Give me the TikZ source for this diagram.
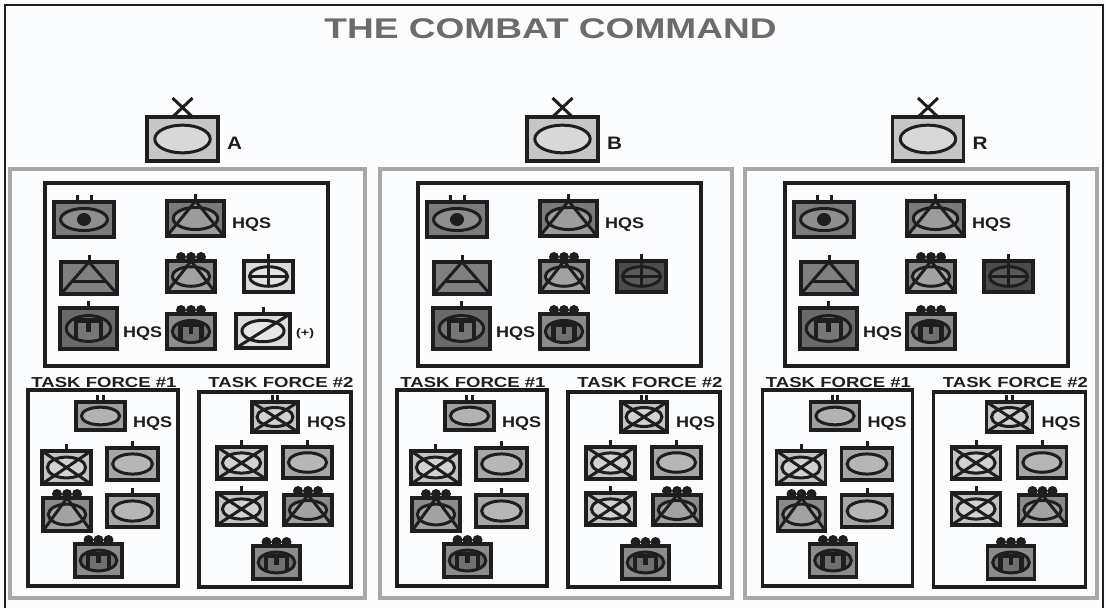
\documentclass[tikz,border=0pt]{standalone}
\usepackage{fontspec}
\setmainfont{Liberation Sans}
\usetikzlibrary{calc}
\definecolor{bg}{HTML}{FBFCFD}
\definecolor{panelgray}{HTML}{A8A8A8}
\definecolor{titlegray}{HTML}{6B6B6B}
\definecolor{inkc}{HTML}{1E1E1E}
\definecolor{topR}{HTML}{C6C6C6}\definecolor{topE}{HTML}{D8D8D8}
\definecolor{eyeR}{HTML}{7C7C7C}\definecolor{eyeE}{HTML}{8E8E8E}
\definecolor{triR}{HTML}{7A7A7A}\definecolor{triE}{HTML}{9C9C9C}
\definecolor{tiiR}{HTML}{808080}
\definecolor{dtR}{HTML}{8A8A8A}\definecolor{dtE}{HTML}{A2A2A2}
\definecolor{crALR}{HTML}{DADADA}\definecolor{crALE}{HTML}{E2E2E2}
\definecolor{crDKR}{HTML}{4C4C4C}\definecolor{crDKE}{HTML}{5A5A5A}
\definecolor{engR}{HTML}{6A6A6A}\definecolor{engE}{HTML}{777777}
\definecolor{deR}{HTML}{8C8C8C}\definecolor{deE}{HTML}{707070}
\definecolor{slR}{HTML}{DCDCDC}\definecolor{slE}{HTML}{E6E6E6}
\definecolor{hqR}{HTML}{9E9E9E}\definecolor{hqE}{HTML}{B2B2B2}
\definecolor{xR}{HTML}{C4C4C4}\definecolor{xE}{HTML}{D2D2D2}
\definecolor{eR}{HTML}{A6A6A6}\definecolor{eE}{HTML}{B6B6B6}

\tikzset{
  symline/.style={line width=3.5pt, draw=inkc, line join=miter},
  ellline/.style={line width=3pt, draw=inkc},
  innerline/.style={line width=3pt, draw=inkc},
  engline/.style={line width=4.4pt, draw=inkc, line join=miter},
  tickline/.style={line width=3pt, draw=inkc},
  panelbox/.style={draw=panelgray, line width=4.5pt},
  innerbox/.style={draw=inkc, line width=3.8pt},
  tfbox/.style={draw=inkc, line width=3.2pt},
  hqs/.style={anchor=base west, inner sep=0pt, text=inkc, font=\fontsize{15.4}{16}\selectfont\bfseries},
  plus/.style={anchor=base west, inner sep=0pt, text=inkc, font=\fontsize{11}{12}\selectfont\bfseries},
  tfl/.style={anchor=base, inner sep=0pt, text=inkc, font=\fontsize{14.5}{15}\selectfont\bfseries},
  letter/.style={anchor=base west, inner sep=0pt, text=inkc, font=\fontsize{18}{19}\selectfont\bfseries},
}

\newcommand\HQS{\scalebox{1.17}[1]{HQS}}
\newcommand\SymSet[4]{%
  \pgfmathsetmacro\Sxa{#1}\pgfmathsetmacro\Sya{#2}%
  \pgfmathsetmacro\Sxb{#3}\pgfmathsetmacro\Syb{#4}%
  \pgfmathsetmacro\Scx{(#1+#3)/2}\pgfmathsetmacro\Scy{(#2+#4)/2}%
  \pgfmathsetmacro\Shw{(#3-#1)/2}\pgfmathsetmacro\Shh{(#4-#2)/2}%
  \pgfmathsetmacro\Srx{0.78*\Shw}\pgfmathsetmacro\Sry{0.63*\Shh}}
\newcommand\SymFill[1]{\fill[#1] (\Sxa,\Sya) rectangle (\Sxb,\Syb);}
\newcommand\SymFrame{\draw[symline] (\Sxa,\Sya) rectangle (\Sxb,\Syb);}
\newcommand\SymEll[1]{\filldraw[ellline,fill=#1] (\Scx,\Scy) ellipse [x radius=\Srx pt, y radius=\Sry pt];}
\newcommand\SymEye{\fill[inkc] (\Scx,\Scy) ellipse [x radius=7pt, y radius=6.5pt];}
\newcommand\SymTriFill[1]{\fill[#1] (\Scx,\Sya) -- (\Sxb,\Syb) -- (\Sxa,\Syb) -- cycle;}
\newcommand\SymTri{\draw[innerline] (\Sxa,\Syb) -- (\Scx,\Sya) -- (\Sxb,\Syb);}
\newcommand\SymBar{\draw[innerline] ($(\Scx,\Sya)!0.62!(\Sxa,\Syb)$) -- ($(\Scx,\Sya)!0.62!(\Sxb,\Syb)$);}
\newcommand\SymX{\draw[innerline] (\Sxa,\Sya) -- (\Sxb,\Syb) (\Sxa,\Syb) -- (\Sxb,\Sya);}
\newcommand\SymSlash{\draw[innerline] (\Sxa,\Syb) -- (\Sxb,\Sya);}
\newcommand\SymCross{\draw[innerline] (\Scx-\Srx,\Scy) -- (\Scx+\Srx,\Scy) (\Scx,\Sya) -- (\Scx,\Scy+\Sry);}
\newcommand\SymEng{\draw[engline] (\Scx-0.44*\Shw,\Scy+0.55*\Shh) -- (\Scx-0.44*\Shw,\Scy-0.4*\Shh) -- (\Scx+0.44*\Shw,\Scy-0.4*\Shh) -- (\Scx+0.44*\Shw,\Scy+0.55*\Shh) (\Scx,\Scy-0.4*\Shh) -- (\Scx,\Scy+0.15*\Shh);}
\newcommand\EchI{\draw[tickline] (\Scx,\Sya) -- (\Scx,\Sya-7.5);}
\newcommand\EchII[1]{\draw[tickline] (\Scx-#1,\Sya) -- (\Scx-#1,\Sya-7.5) (\Scx+#1,\Sya) -- (\Scx+#1,\Sya-7.5);}
\newcommand\EchDots{\fill[inkc] (\Scx-10,\Sya-4) circle [radius=5pt] (\Scx,\Sya-4) circle [radius=5pt] (\Scx+10,\Sya-4) circle [radius=5pt];}
\newcommand\EchX{\draw[tickline] (\Scx-10,\Sya-19) -- (\Scx+10,\Sya) (\Scx-10,\Sya) -- (\Scx+10,\Sya-19);}

% top symbol of a panel
\newcommand\TopSym[2]{%
  \SymSet{147}{117}{218}{161}\SymFill{topR}\SymEll{topE}\EchX\SymFrame
  \node[letter] (#1lab) at (227,149.5) {\scalebox{1.15}[1]{#2}};}

% inner box symbols of a panel
\newcommand\PanelInner[3]{%
  \draw[innerbox] (45,183) rectangle (328,366);
  \SymSet{54}{202}{114}{237}\SymFill{eyeR}\SymEll{eyeE}\SymEye\EchII{7}\SymFrame
  \SymSet{167}{201}{224}{236}\SymFill{triR}\SymTriFill{triE}\SymEll{triE}\SymTri\EchI\SymFrame
  \node[hqs] (#1hqsa) at (232,228.5) {\HQS};
  \SymSet{61}{262}{117}{294}\SymFill{tiiR}\SymTri\SymBar\EchI\SymFrame
  \SymSet{167}{261}{215}{292}\SymFill{dtR}\SymTriFill{dtE}\SymEll{dtE}\SymTri\EchDots\SymFrame
  \SymSet{244}{261}{293}{292}\SymFill{#2}\SymEll{#3}\SymCross\EchI\SymFrame
  \SymSet{60}{308}{117}{349}\SymFill{engR}\SymEll{engE}\SymEng\EchI\SymFrame
  \node[hqs] (#1hqsb) at (123,337.5) {\HQS};
  \SymSet{167}{314}{215}{349}\SymFill{deR}\SymEll{deE}\SymEng\EchDots\SymFrame
}

% task forces of a panel
\newcommand\TaskForces[1]{%
  \draw[tfbox] (28,390) rectangle (178,586);
  \draw[tfbox] (199,392) rectangle (351,587);
  \node[tfl] (#1tfa) at (104,387) {\scalebox{1.28}[1]{TASK FORCE \#1}};
  \node[tfl] (#1tfb) at (281,387) {\scalebox{1.28}[1]{TASK FORCE \#2}};
  \SymSet{76}{402}{125}{430}\SymFill{hqR}\SymEll{hqE}\EchII{2.8}\SymFrame
  \node[hqs] (#1hqsc) at (133,427.5) {\HQS};
  \SymSet{42}{451}{91}{484}\SymFill{xR}\SymEll{xE}\SymX\EchI\SymFrame
  \SymSet{107}{448}{158}{480}\SymFill{eR}\SymEll{eE}\EchI\SymFrame
  \SymSet{43}{498}{91}{531}\SymFill{dtR}\SymTriFill{dtE}\SymEll{dtE}\SymTri\EchDots\SymFrame
  \SymSet{107}{495}{158}{527}\SymFill{eR}\SymEll{eE}\EchI\SymFrame
  \SymSet{75}{544}{122}{577}\SymFill{deR}\SymEll{deE}\SymEng\EchDots\SymFrame
  \SymSet{252}{402}{298}{432}\SymFill{xR}\SymEll{xE}\SymX\EchII{2.8}\SymFrame
  \node[hqs] (#1hqsd) at (307,427.5) {\HQS};
  \SymSet{217}{447}{266}{479}\SymFill{xR}\SymEll{xE}\SymX\EchI\SymFrame
  \SymSet{283}{447}{332}{478}\SymFill{eR}\SymEll{eE}\EchI\SymFrame
  \SymSet{217}{493}{266}{525}\SymFill{xR}\SymEll{xE}\SymX\EchI\SymFrame
  \SymSet{284}{495}{332}{525}\SymFill{dtR}\SymTriFill{dtE}\SymEll{dtE}\SymTri\EchDots\SymFrame
  \SymSet{253}{546}{300}{579}\SymFill{deR}\SymEll{deE}\SymEng\EchDots\SymFrame
}

\begin{document}
\begin{tikzpicture}[x=1pt,y=-1pt]
\useasboundingbox (0,0) rectangle (1106,608);
\fill[bg] (0,0) rectangle (1106,608);
\draw[line width=2pt, draw=inkc] (5,608) -- (5,5) -- (1103,5) -- (1103,608);

\node[anchor=base, inner sep=0pt, text=titlegray, font=\fontsize{28.5}{30}\selectfont\bfseries] (title) at (550.5,38) {\scalebox{1.3}[1]{THE COMBAT COMMAND}};

% gray panels
\draw[panelbox] (10,169) rectangle (365,598);
\draw[panelbox] (380,169) rectangle (732,598);
\draw[panelbox] (745,169) rectangle (1097,598);

% panel A
\TopSym{A}{A}
\PanelInner{A}{crALR}{crALE}
\SymSet{236}{314}{290}{348}\SymFill{slR}\SymEll{slE}\SymSlash\EchI\SymFrame
\node[plus] (Aplus) at (296,336.5) {\scalebox{1.3}[1]{(+)}};
\TaskForces{A}

% panel B
\begin{scope}[xshift=380pt]\TopSym{B}{B}\end{scope}
\begin{scope}[xshift=373pt]\PanelInner{B}{crDKR}{crDKE}\end{scope}
\begin{scope}[xshift=369pt]\TaskForces{B}\end{scope}

% panel R
\begin{scope}[xshift=745.5pt]\TopSym{R}{R}\end{scope}
\begin{scope}[xshift=740pt]\PanelInner{R}{crDKR}{crDKE}\end{scope}
\begin{scope}[xshift=734.5pt]\TaskForces{R}\end{scope}
\end{tikzpicture}
\end{document}
